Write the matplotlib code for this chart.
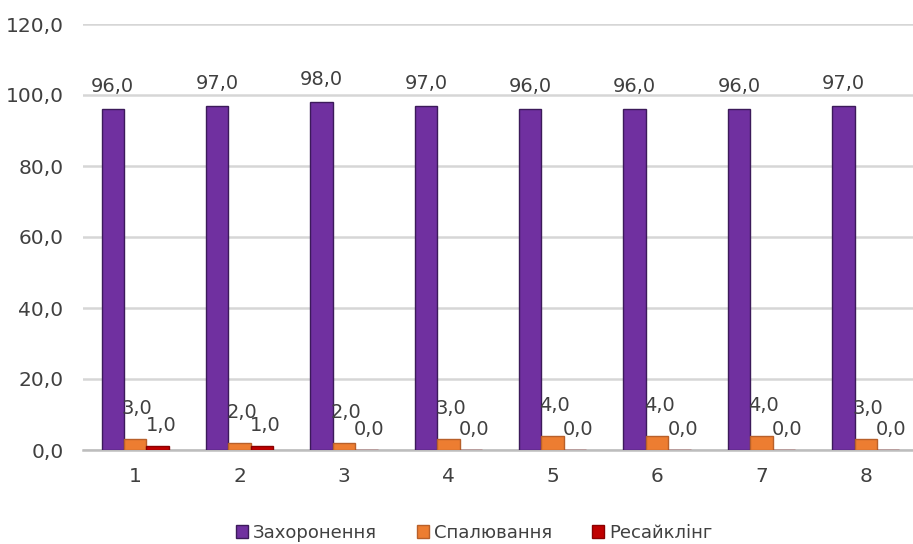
import matplotlib.pyplot as plt
import numpy as np

categories = ["1", "2", "3", "4", "5", "6", "7", "8"]
zahoronennia = [96.0, 97.0, 98.0, 97.0, 96.0, 96.0, 96.0, 97.0]
spaliuvannia = [3.0, 2.0, 2.0, 3.0, 4.0, 4.0, 4.0, 3.0]
resaikling = [1.0, 1.0, 0.0, 0.0, 0.0, 0.0, 0.0, 0.0]
series_names = ["Захоронення", "Спалювання", "Ресайклінг"]
y_ticks = [0, 20, 40, 60, 80, 100, 120]

plt.rcParams['font.family'] = ['DejaVu Sans']

fig = plt.figure(figsize=(9.13, 5.44), dpi=100)
ax = fig.add_axes([83 / 913, 94 / 544, 835 / 913, 426 / 544])

x = np.arange(len(categories))
w = 0.215
colors = ["#7030a0", "#ed7d31", "#c00000"]
edges = ["#3c1a5a", "#b8602a", "#8a0000"]
values = [zahoronennia, spaliuvannia, resaikling]
txt = "#404040"

def fmt(v):
    return f"{v:.1f}".replace(".", ",")

for i, (vals, c, e, name) in enumerate(zip(values, colors, edges, series_names)):
    pos = x + (i - 1) * w
    ax.bar(pos, vals, width=w, color=c, edgecolor=e, linewidth=1.0,
           label=name, zorder=3)
    for p, v in zip(pos, vals):
        if i == 0:
            ax.text(p, v + 4.8, fmt(v), ha="center", va="baseline",
                    fontsize=14, color=txt, zorder=4)
        elif i == 1:
            ax.text(p + 0.02, v + 7.0, fmt(v), ha="center", va="baseline",
                    fontsize=14, color=txt, zorder=4)
        else:
            ax.text(p + 0.03, v + 4.3, fmt(v), ha="center", va="baseline",
                    fontsize=14, color=txt, zorder=4)

ax.set_xlim(-0.5, 7.5)
ax.set_ylim(0, 120)
ax.set_yticks(y_ticks)
ax.set_yticklabels([fmt(t) for t in y_ticks], fontsize=14.5, color=txt)
ax.set_xticks(x)
ax.set_xticklabels(categories, fontsize=14.5, color=txt)
ax.tick_params(axis="both", length=0)
ax.tick_params(axis="y", pad=14)
ax.tick_params(axis="x", pad=12)
ax.grid(axis="y", color="#d6d6d6", linewidth=1.8, zorder=0)
for s in ["top", "right", "left"]:
    ax.spines[s].set_visible(False)
ax.spines["bottom"].set_color("#bdbdbd")
ax.spines["bottom"].set_linewidth(1.8)

fig.legend(loc="center", bbox_to_anchor=(474 / 913, 1 - 533 / 544), ncol=3,
           frameon=False, fontsize=13, handlelength=0.7, handleheight=0.7,
           handletextpad=0.25, columnspacing=2.2, labelcolor=txt,
           borderpad=0, borderaxespad=0)

fig.savefig("out.png", dpi=100)
